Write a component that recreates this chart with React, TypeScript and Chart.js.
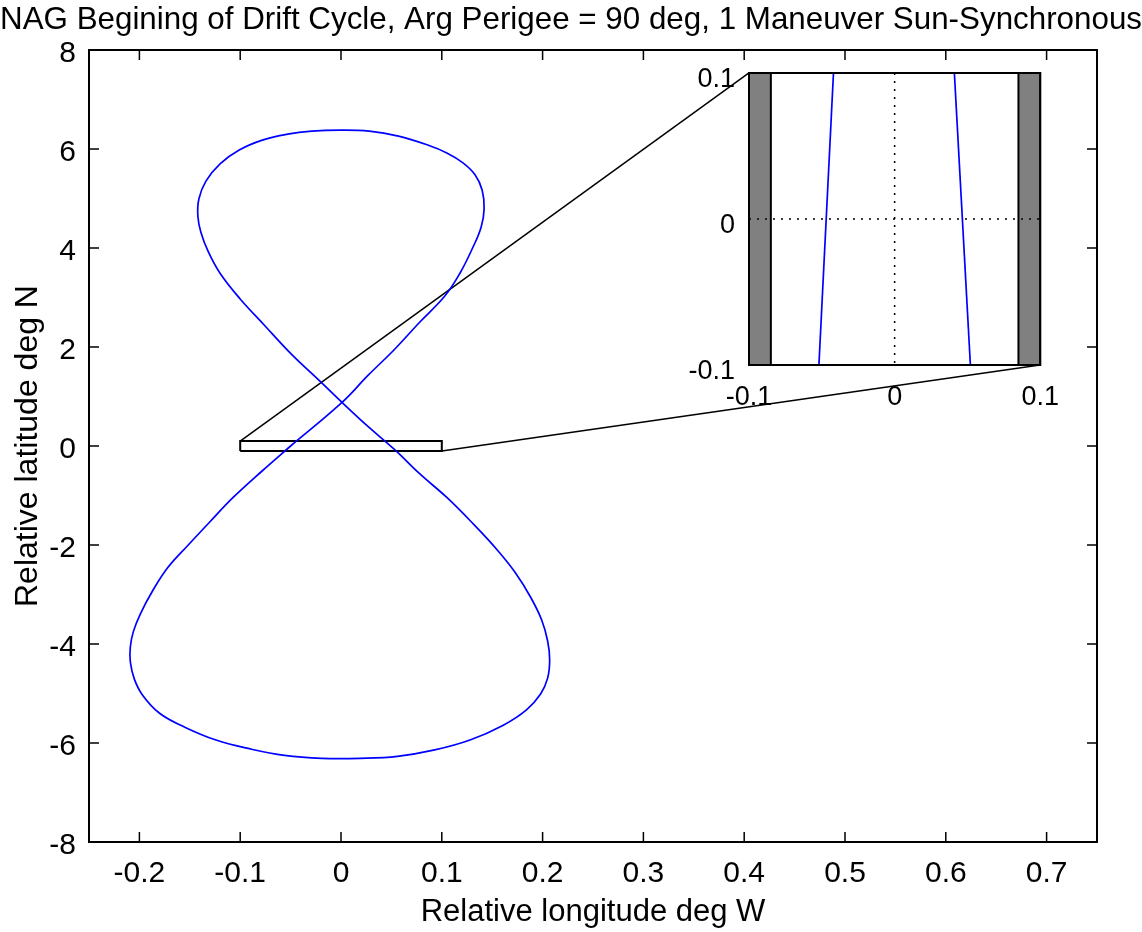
import React, { useEffect, useRef } from 'react';
import { Chart, registerables } from 'chart.js';

Chart.register(...registerables);

const TITLE = 'NAG Begining of Drift Cycle, Arg Perigee = 90 deg, 1 Maneuver Sun-Synchronous';
const X_LABEL = 'Relative longitude deg W';
const Y_LABEL = 'Relative latitude deg N';

const xRange = [-0.25, 0.75];
const yRange = [-8, 8];
const xTicks = [-0.2, -0.1, 0, 0.1, 0.2, 0.3, 0.4, 0.5, 0.6, 0.7];
const yTicks = [-8, -6, -4, -2, 0, 2, 4, 6, 8];

// figure-eight ground track (relative longitude W, relative latitude N)
const curveLon = [
  -0.050, 0.001, 0.027, 0.053, 0.078, 0.103, 0.118, 0.131, 0.139, 0.142, 0.140, 0.133,
  0.121, 0.105, 0.086, 0.057, 0.028, -0.001, -0.029, -0.053, -0.078, -0.101, -0.120,
  -0.134, -0.141, -0.142, -0.139, -0.132, -0.120, -0.100, -0.076, -0.049, -0.023, 0.001,
  0.027, 0.053, 0.078, 0.105, 0.131, 0.155, 0.173, 0.188, 0.199, 0.205, 0.207, 0.205,
  0.198, 0.184, 0.161, 0.128, 0.093, 0.056, 0.019, -0.019, -0.056, -0.090, -0.124,
  -0.155, -0.180, -0.197, -0.205, -0.209, -0.209, -0.206, -0.199, -0.187, -0.172, -0.152,
  -0.130, -0.107, -0.078, -0.050,
];
const curveLat = [
  0.00, 0.88, 1.43, 1.95, 2.50, 3.03, 3.49, 4.02, 4.42, 4.79, 5.17, 5.48,
  5.72, 5.92, 6.08, 6.26, 6.36, 6.38, 6.36, 6.30, 6.18, 5.98, 5.70,
  5.35, 4.99, 4.64, 4.32, 3.94, 3.49, 2.97, 2.44, 1.85, 1.35, 0.88,
  0.39, -0.07, -0.56, -1.04, -1.57, -2.10, -2.56, -3.05, -3.51, -3.94, -4.32, -4.69,
  -5.01, -5.33, -5.64, -5.94, -6.14, -6.27, -6.31, -6.31, -6.25, -6.12, -5.94,
  -5.68, -5.40, -5.03, -4.71, -4.36, -4.06, -3.75, -3.39, -2.93, -2.46, -2.01,
  -1.53, -1.04, -0.50, 0.00,
];

// zoom rectangle in the main axes
const zoomBoxLon = [-0.1, 0.1, 0.1, -0.1, -0.1];
const zoomBoxLat = [-0.1, -0.1, 0.1, 0.1, -0.1];

// where the inset sits, in main-axes data units
const insetLon = [0.4044, 0.6934];
const insetLat = [1.636, 7.535];

// inset contents
const insetRange = [-0.1, 0.1];
const insetTicks = [-0.1, 0, 0.1];
const insetBandLeftLon = [-0.1, -0.085];
const insetBandRightLon = [0.085, 0.1];
const insetTrackLat = [-0.1, 0.1];
const insetTrackLeftLon = [-0.052, -0.042];
const insetTrackRightLon = [0.052, 0.041];

const FONT = '"Liberation Sans", Arial, Helvetica, sans-serif';

const pts = (xs: number[], ys: number[]) => xs.map((x, i) => ({ x, y: ys[i] }));
const band = (lon: number[], lat: number[]) => [
  { x: lon[0], y: lat[0] },
  { x: lon[1], y: lat[0] },
  { x: lon[1], y: lat[1] },
  { x: lon[0], y: lat[1] },
  { x: lon[0], y: lat[0] },
];

const mainFrame = {
  id: 'mainFrame',
  afterDatasetsDraw(chart: any) {
    const { ctx, chartArea: a, scales } = chart;
    const xs = scales.x;
    const ys = scales.y;
    ctx.save();
    ctx.strokeStyle = '#000';
    ctx.lineWidth = 1.5;
    ctx.beginPath();
    xs.ticks.forEach((t: any) => {
      const p = xs.getPixelForValue(t.value);
      ctx.moveTo(p, a.bottom);
      ctx.lineTo(p, a.bottom - 10);
      ctx.moveTo(p, a.top);
      ctx.lineTo(p, a.top + 10);
    });
    ys.ticks.forEach((t: any) => {
      const p = ys.getPixelForValue(t.value);
      ctx.moveTo(a.left, p);
      ctx.lineTo(a.left + 10, p);
      ctx.moveTo(a.right, p);
      ctx.lineTo(a.right - 10, p);
    });
    ctx.stroke();
    ctx.lineWidth = 2;
    ctx.strokeRect(a.left, a.top, a.right - a.left, a.bottom - a.top);
    ctx.restore();
  },
};

const insetFrame = {
  id: 'insetFrame',
  beforeDatasetsDraw(chart: any) {
    const { ctx, chartArea: a } = chart;
    ctx.save();
    ctx.fillStyle = '#fff';
    ctx.fillRect(a.left, a.top, a.right - a.left, a.bottom - a.top);
    ctx.restore();
  },
  afterDatasetsDraw(chart: any) {
    const { ctx, chartArea: a, scales } = chart;
    const xs = scales.x;
    const ys = scales.y;
    ctx.save();
    ctx.strokeStyle = '#000';
    ctx.lineWidth = 1.5;
    ctx.setLineDash([2, 6]);
    ctx.beginPath();
    xs.ticks.forEach((t: any) => {
      const p = xs.getPixelForValue(t.value);
      ctx.moveTo(p, a.top);
      ctx.lineTo(p, a.bottom);
    });
    ys.ticks.forEach((t: any) => {
      const p = ys.getPixelForValue(t.value);
      ctx.moveTo(a.left, p);
      ctx.lineTo(a.right, p);
    });
    ctx.stroke();
    ctx.setLineDash([]);
    ctx.lineWidth = 2;
    ctx.strokeRect(a.left, a.top, a.right - a.left, a.bottom - a.top);
    ctx.restore();
  },
};

export default function App() {
  const mainRef = useRef<HTMLCanvasElement | null>(null);
  const insetRef = useRef<HTMLCanvasElement | null>(null);
  const insetWrapRef = useRef<HTMLDivElement | null>(null);

  useEffect(() => {
    if (!mainRef.current || !insetRef.current || !insetWrapRef.current) return;

    const main = new Chart(mainRef.current, {
      type: 'scatter',
      data: {
        datasets: [
          {
            data: pts(curveLon, curveLat),
            showLine: true,
            borderColor: '#0000ff',
            borderWidth: 1.7,
            pointRadius: 0,
            tension: 0.4,
          },
          {
            data: pts(zoomBoxLon, zoomBoxLat),
            showLine: true,
            borderColor: '#000',
            borderWidth: 2,
            pointRadius: 0,
            tension: 0,
          },
          {
            data: [
              { x: zoomBoxLon[3], y: zoomBoxLat[3] },
              { x: insetLon[0], y: insetLat[1] },
            ],
            showLine: true,
            borderColor: '#000',
            borderWidth: 1.5,
            pointRadius: 0,
          },
          {
            data: [
              { x: zoomBoxLon[1], y: zoomBoxLat[1] },
              { x: insetLon[1], y: insetLat[0] },
            ],
            showLine: true,
            borderColor: '#000',
            borderWidth: 1.5,
            pointRadius: 0,
          },
        ],
      },
      options: {
        animation: false,
        responsive: true,
        maintainAspectRatio: false,
        events: [],
        layout: { padding: { left: 0, right: 0, top: 0, bottom: 0 } },
        plugins: {
          legend: { display: false },
          tooltip: { enabled: false },
          title: {
            display: true,
            text: TITLE,
            color: '#000',
            font: { family: FONT, size: 32, weight: 'normal' },
            padding: { top: 1, bottom: 10.6 },
          },
        },
        scales: {
          x: {
            type: 'linear',
            min: xRange[0],
            max: xRange[1],
            afterBuildTicks: (s: any) => {
              s.ticks = xTicks.map((v) => ({ value: v }));
            },
            afterFit: (s: any) => {
              s.height = 90;
            },
            grid: { display: false, drawTicks: false },
            border: { display: false },
            ticks: {
              color: '#000',
              font: { family: FONT, size: 30 },
              padding: 14,
              maxRotation: 0,
              autoSkip: false,
              callback: (v: any) => String(v),
            },
            title: {
              display: true,
              text: X_LABEL,
              color: '#000',
              font: { family: FONT, size: 31 },
              padding: { top: 0, bottom: 1 },
            },
          },
          y: {
            type: 'linear',
            min: yRange[0],
            max: yRange[1],
            afterBuildTicks: (s: any) => {
              s.ticks = yTicks.map((v) => ({ value: v }));
            },
            afterFit: (s: any) => {
              s.width = 89;
            },
            grid: { display: false, drawTicks: false },
            border: { display: false },
            ticks: {
              color: '#000',
              font: { family: FONT, size: 30 },
              padding: 13,
              labelOffset: 4,
              autoSkip: false,
              callback: (v: any) => String(v),
            },
            title: {
              display: true,
              text: Y_LABEL,
              color: '#000',
              font: { family: FONT, size: 32 },
              padding: { top: 9, bottom: 0 },
            },
          },
          yRightMargin: {
            type: 'linear',
            position: 'right',
            min: yRange[0],
            max: yRange[1],
            afterFit: (s: any) => {
              s.width = 45;
            },
            grid: { display: false, drawTicks: false },
            border: { display: false },
            ticks: { display: false },
          },
        },
      },
      plugins: [mainFrame],
    } as any);

    // place the inset from the main axes' own scales
    const xs: any = main.scales.x;
    const ys: any = main.scales.y;
    const L = xs.getPixelForValue(insetLon[0]);
    const R = xs.getPixelForValue(insetLon[1]);
    const T = ys.getPixelForValue(insetLat[1]);
    const B = ys.getPixelForValue(insetLat[0]);
    const padL = 88;
    const padT = 33;
    const padR = 41;
    const padB = 75;
    const wrap = insetWrapRef.current;
    wrap.style.left = `${L - padL}px`;
    wrap.style.top = `${T - padT}px`;
    wrap.style.width = `${R - L + padL + padR}px`;
    wrap.style.height = `${B - T + padT + padB}px`;

    const inset = new Chart(insetRef.current, {
      type: 'scatter',
      data: {
        datasets: [
          {
            data: band(insetBandLeftLon, insetRange),
            showLine: true,
            fill: 'shape',
            backgroundColor: '#808080',
            borderColor: '#000',
            borderWidth: 2,
            pointRadius: 0,
          },
          {
            data: band(insetBandRightLon, insetRange),
            showLine: true,
            fill: 'shape',
            backgroundColor: '#808080',
            borderColor: '#000',
            borderWidth: 2,
            pointRadius: 0,
          },
          {
            data: pts(insetTrackLeftLon, insetTrackLat),
            showLine: true,
            borderColor: '#0000ff',
            borderWidth: 1.7,
            pointRadius: 0,
          },
          {
            data: pts(insetTrackRightLon, insetTrackLat),
            showLine: true,
            borderColor: '#0000ff',
            borderWidth: 1.7,
            pointRadius: 0,
          },
        ],
      },
      options: {
        animation: false,
        responsive: true,
        maintainAspectRatio: false,
        events: [],
        layout: { padding: { left: 0, right: padR, top: padT, bottom: 0 } },
        plugins: {
          legend: { display: false },
          tooltip: { enabled: false },
          title: { display: false },
        },
        scales: {
          x: {
            type: 'linear',
            min: insetRange[0],
            max: insetRange[1],
            afterBuildTicks: (s: any) => {
              s.ticks = insetTicks.map((v) => ({ value: v }));
            },
            afterFit: (s: any) => {
              s.height = padB;
            },
            grid: { display: false, drawTicks: false },
            border: { display: false },
            ticks: {
              color: '#000',
              font: { family: FONT, size: 27 },
              padding: 16,
              maxRotation: 0,
              autoSkip: false,
              callback: (v: any) => String(v),
            },
          },
          y: {
            type: 'linear',
            min: insetRange[0],
            max: insetRange[1],
            afterBuildTicks: (s: any) => {
              s.ticks = insetTicks.map((v) => ({ value: v }));
            },
            afterFit: (s: any) => {
              s.width = padL;
            },
            grid: { display: false, drawTicks: false },
            border: { display: false },
            ticks: {
              color: '#000',
              font: { family: FONT, size: 27 },
              padding: 14,
              labelOffset: 7,
              autoSkip: false,
              callback: (v: any) => String(v),
            },
          },
        },
      },
      plugins: [insetFrame],
    } as any);

    return () => {
      inset.destroy();
      main.destroy();
    };
  }, []);

  return (
    <div
      style={{
        position: 'absolute',
        left: 0,
        top: 0,
        width: 1142,
        height: 932,
        background: '#fff',
        overflow: 'hidden',
      }}
    >
      <div style={{ position: 'absolute', left: 0, top: 0, width: 1142, height: 932 }}>
        <canvas ref={mainRef} />
      </div>
      <div ref={insetWrapRef} style={{ position: 'absolute', pointerEvents: 'none' }}>
        <canvas ref={insetRef} />
      </div>
    </div>
  );
}
